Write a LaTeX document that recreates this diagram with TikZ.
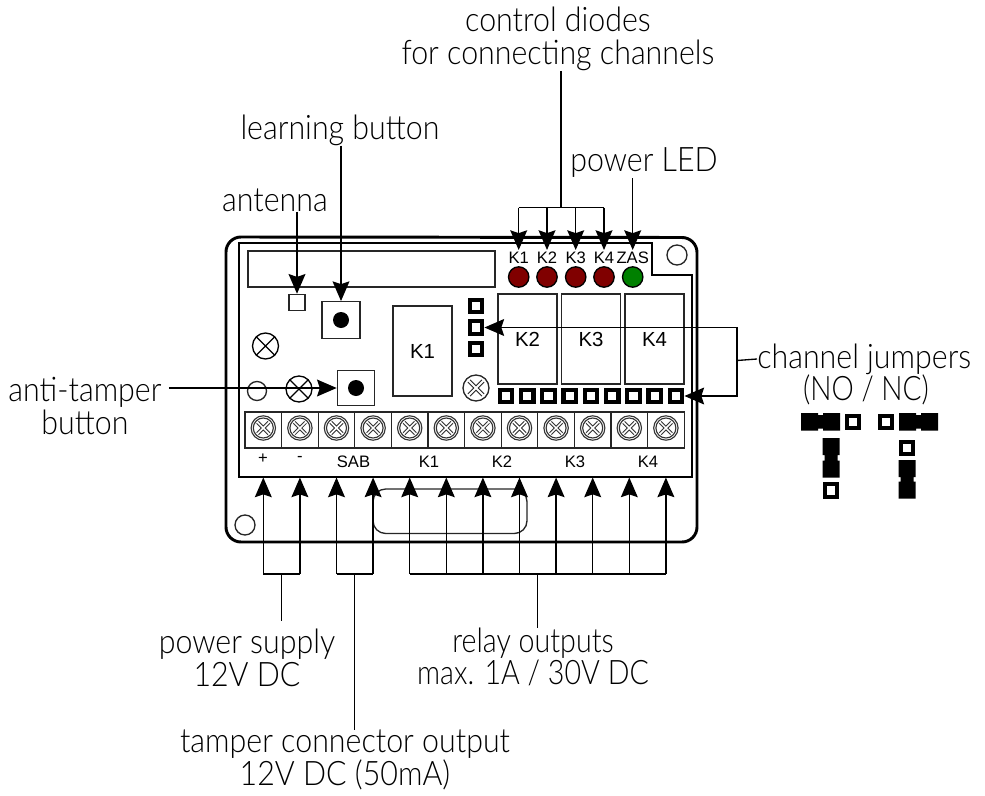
\documentclass[tikz,border=0pt]{standalone}
\usepackage{fontspec}
\setmainfont{Liberation Sans}
\newfontfamily\lightfont{Lato Light}
\usetikzlibrary{arrows.meta}
\tikzset{
  board/.style={line width=2.1pt},
  part/.style={draw=black!85,line width=.95pt,fill=white},
  link/.style={line width=.95pt},
  pointer/.style={link,-{Stealth[length=14pt,width=12pt,inset=2pt]}},
  lbl/.style={font=\lightfont\fontsize{24}{23}\selectfont,align=center,inner sep=0pt,xscale=.9},
  tiny/.style={font=\fontsize{11.8}{11.8}\selectfont,inner sep=0pt},
  relay/.style={part,minimum width=42pt,minimum height=64pt,inner sep=0pt,font=\fontsize{14.5}{14.5}\selectfont},
  pin/.style={draw=black,line width=3pt,fill=white,minimum size=9pt,inner sep=0pt},
  led/.style={circle,draw=black,line width=.95pt,minimum size=14.5pt,inner sep=0pt},
  pushbtn/.style={part,inner sep=0pt},
  pics/cross/.style={code={
    \draw [line width=.95pt,fill=white] (0,0) circle (#1);
    \draw [line width=.95pt] (45:#1) -- (225:#1) (135:#1) -- (315:#1);}},
  pics/screw/.style={code={
    \draw [line width=.8pt,black!80] (0,0) circle (12.2) (0,0) circle (10);
    \draw [line width=2.6pt,black!80] (45:8) -- (225:8) (135:8) -- (315:8);
    \draw [line width=1.1pt,white] (45:8.5) -- (225:8.5) (135:8.5) -- (315:8.5);}},
  pics/bigscrew/.style={code={
    \draw [part] (0,0) circle (13);
    \draw [line width=2.8pt,black!85] (45:10) -- (225:10) (135:10) -- (315:10);
    \draw [line width=1.4pt,white] (45:10.5) -- (225:10.5) (135:10.5) -- (315:10.5);}}
}
\begin{document}
\begin{tikzpicture}[x=0.025cm,y=-0.025cm]
  \useasboundingbox (0,0) rectangle (985,795);
  % housing
  \draw [board] (226,252) arc (180:270:15) -- (682,237.5) arc (270:360:15)
        -- (697,527) arc (0:90:15) -- (241,542) arc (90:180:15) -- cycle;
  \draw [board] (239,243) -- (652,243) -- (652,275) -- (692,275) -- (692,477)
        -- (239,477) -- cycle;
  \draw [part] (248,251) rectangle (495,287);
  \draw [part,rounded corners=9pt] (373,489) rectangle (527,533.5);
  \draw [part] (245,525) circle (10);
  \draw [part] (677,255) circle (10);
  \draw [part] (257,391) circle (9.5);
  % parts
  \node (antenna) [part,minimum size=11.5pt,inner sep=0pt] at (297,302.5) {};
  \node (learn) [pushbtn,minimum width=27pt,minimum height=26pt] at (341,320) {};
  \node (tamper) [pushbtn,minimum width=26.5pt,minimum height=24.5pt] at (356,388) {};
  \fill (learn.center) circle (8) (tamper.center) circle (8);
  \pic at (265.5,346) {cross=13};
  \pic at (299,389) {cross=13};
  \node (K1) [relay] at (422.5,351) {K1};
  \node (K2) [relay] at (527.5,339) {K2};
  \node (K3) [relay] at (591,339) {K3};
  \node (K4) [relay] at (654.5,339) {K4};
  \pic at (476,388) {bigscrew};
  % jumpers on the board
  \node (jmpA) [pin] at (476,306) {};
  \node (jmpB) [pin] at (476,327.5) {};
  \node (jmpC) [pin] at (476,349) {};
  \foreach \i in {0,...,8}
    \node (row\i) [pin] at (506+21.25*\i,396) {};
  % diodes
  \foreach \n/\x/\t in {1/518.7/K1,2/547/K2,3/575.7/K3,4/604/K4} {
    \node (led\n) [led,fill=red!50!black] at (\x,277) {};
    \node (name\n) [tiny] at (\x,258) {\t};
    \coordinate (tip\n) at (\x,250);
  }
  \node (ledZ) [led,fill=green!50!black] at (632.7,277) {};
  \node (nameZ) [tiny] at (632.7,258) {ZAS};
  \coordinate (tipZ) at (632.7,250);
  % terminal strip
  \foreach \i in {1,...,12} {
    \draw [part] (208.4+36.6*\i,412) rectangle +(36.6,36);
    \pic at (226.7+36.6*\i,428) {screw};
    \coordinate (term\i) at (226.7+36.6*\i,477.5);
    \coordinate (foot\i) at (226.7+36.6*\i,574);
  }
  \node [tiny] at (263,459) {+};
  \node [tiny] at (300,459) {-};
  \node [tiny] at (353.5,462) {SAB};
  \node [tiny] at (429,462) {K1};
  \node [tiny] at (502,462) {K2};
  \node [tiny] at (575,462) {K3};
  \node [tiny] at (648,462) {K4};
  % texts
  \node (diodes) [lbl] at (558,39) {control diodes\\for connecting channels};
  \node (power) [lbl] at (644,163) {power LED};
  \node (button) [lbl] at (340,130) {learning button};
  \node (ant) [lbl] at (275,200) {antenna};
  \node (anti) [lbl] at (85,406) {anti-tamper\\button};
  \node (chan) [lbl,anchor=west] at (757,359) {channel jumpers};
  \node (nonc) [lbl,xscale=.925] at (866,390) {(NO / NC)};
  \node (supply) [lbl] at (247,658) {power supply\\12V DC};
  \node (relays) [lbl,xscale=.943] at (533,657) {relay outputs\\max. 1A / 30V DC};
  \node (conn) [lbl] at (345,760) {tamper connector output\\12V DC (50mA)};
  % arrows at the top
  \coordinate (busT) at (561,207.5);
  \draw [link] (diodes.south -| busT) -- (busT);
  \draw [link] (led1 |- busT) -- (led4 |- busT);
  \foreach \n in {1,...,4}
    \draw [pointer] (led\n |- busT) -- (tip\n);
  \draw [pointer] (ledZ |- power.south) -- (tipZ);
  \draw [pointer] (learn |- button.south) -- (learn.north);
  \draw [pointer] (antenna |- ant.south) -- (antenna.north);
  \draw [pointer] ([xshift=5pt]anti.east |- tamper) -- (tamper.west);
  % arrows to the jumpers
  \coordinate (busR) at (737,360.5);
  \draw [link] (chan.west) -- (busR);
  \draw [pointer] (busR) |- (jmpB.east);
  \draw [pointer] (busR) |- (row8.east);
  % arrows at the bottom
  \foreach \i in {1,...,12}
    \draw [pointer] (foot\i) -- (term\i);
  \draw [link] (foot1) -- (foot2) (foot3) -- (foot4) (foot5) -- (foot12);
  \draw [link] (281.3,574) -- (281.3,621);
  \draw [link] (354.5,574) -- (conn.north -| 354.5,0);
  \draw [link] (537.3,574) -- (relays.north -| 537.3,0);
  % jumper settings
  \foreach \name/\x/\y in {a/853/422,b/886/422,c/831/490.5,d/907/448}
    \node (\name) [pin] at (\x,\y) {};
  \fill (801,413) rectangle (818,430.5) (823,413) rectangle (840,430.5) (818,415) rectangle (823,428.5);
  \fill (899,413) rectangle (916,430.5) (921,413) rectangle (938,430.5) (916,415) rectangle (921,428.5);
  \fill (822.5,438) rectangle (839.5,455) (822.5,460.5) rectangle (839.5,477.5) (824.5,455) rectangle (837.5,460.5);
  \fill (898.5,460) rectangle (915.5,477) (898.5,481.5) rectangle (915.5,498.5) (900.5,477) rectangle (913.5,481.5);
\end{tikzpicture}
\end{document}
